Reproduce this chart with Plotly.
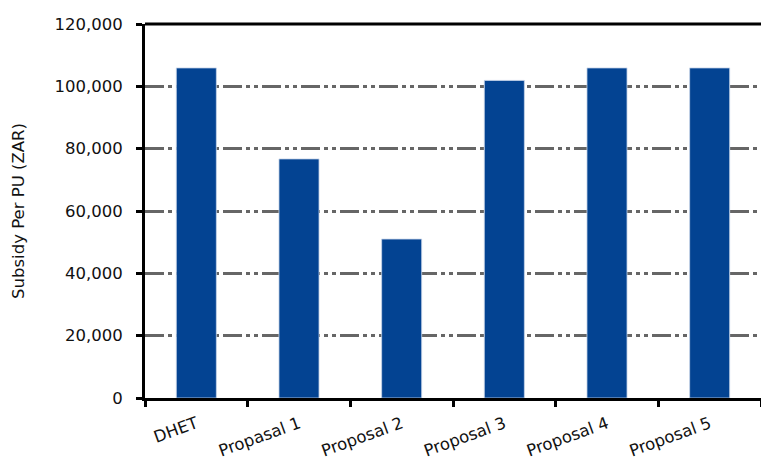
import plotly.graph_objects as go

categories = ["DHET", "Propasal 1", "Proposal 2", "Proposal 3", "Proposal 4", "Proposal 5"]
values = [105900, 76700, 51000, 101900, 105900, 105900]
y_ticks = [0, 20000, 40000, 60000, 80000, 100000, 120000]
y_tick_labels = ["0", "20,000", "40,000", "60,000", "80,000", "100,000", "120,000"]

fig = go.Figure()
fig.add_trace(go.Bar(
    x=categories, y=values,
    marker=dict(color="#034392", line=dict(color="#c9d6ea", width=0.8)),
    width=0.39,
))

font_family = "DejaVu Sans, sans-serif"

fig.update_layout(
    width=761, height=463,
    margin=dict(l=145, r=0, t=24, b=65),
    paper_bgcolor="white", plot_bgcolor="white",
    showlegend=False,
    font=dict(family=font_family, color="#222222"),
    xaxis=dict(
        showline=True, linecolor="black", linewidth=3,
        ticks="outside", tickson="boundaries", ticklen=6, tickwidth=3, tickcolor="black",
        tickangle=-20, tickfont=dict(size=16.5, family=font_family, color="#111111"),
        ticklabelstandoff=7, automargin=False,
        showgrid=False, mirror=False,
    ),
    yaxis=dict(
        range=[0, 120000],
        tickvals=y_ticks, ticktext=y_tick_labels,
        showline=True, linecolor="black", linewidth=3,
        ticks="outside", ticklen=6, tickwidth=3, tickcolor="black",
        tickfont=dict(size=16.5, family=font_family, color="#111111"),
        ticklabelstandoff=10, automargin=False,
        showgrid=True, gridcolor="#666666", gridwidth=2.5,
        griddash="19px,4px,4px,4px,4px,4px",
        title=dict(text="Subsidy Per PU (ZAR)", font=dict(size=16.5, family=font_family, color="#111111"), standoff=26),
        zeroline=False,
    ),
)

# top border line of plot area
fig.add_shape(type="line", xref="paper", yref="paper", x0=0, x1=1, y0=1, y1=1,
              line=dict(color="black", width=3))

fig.write_html("out.html", config={"displayModeBar": False},
               post_script="document.body.style.margin='0';document.body.style.overflow='hidden';")
